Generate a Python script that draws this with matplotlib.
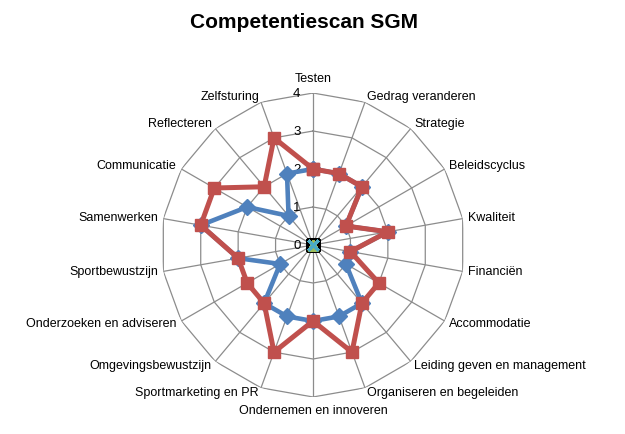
import numpy as np
import matplotlib
matplotlib.use('Agg')
import matplotlib.pyplot as plt

plt.rcParams['font.family'] = ['Liberation Sans', 'DejaVu Sans']

categories = ['Testen', 'Gedrag veranderen', 'Strategie', 'Beleidscyclus', 'Kwaliteit',
              'Financiën', 'Accommodatie', 'Leiding geven en management',
              'Organiseren en begeleiden', 'Ondernemen en innoveren', 'Sportmarketing en PR',
              'Omgevingsbewustzijn', 'Onderzoeken en adviseren', 'Sportbewustzijn',
              'Samenwerken', 'Communicatie', 'Reflecteren', 'Zelfsturing']
blue_vals = [2, 2, 2, 1, 2, 1, 1, 2, 2, 2, 2, 2, 1, 2, 3, 2, 1, 2]
red_vals = [2, 2, 2, 1, 2, 1, 2, 2, 3, 2, 3, 2, 2, 2, 3, 3, 2, 3]
zero_vals = [0] * len(categories)
ring_ticks = [0, 1, 2, 3, 4]

n = len(categories)
theta = np.arange(n) * 2 * np.pi / n
theta_c = np.append(theta, theta[0])

def closed(v):
    return np.append(v, v[0])

fig = plt.figure(figsize=(6.25, 4.34), dpi=100)
ax = fig.add_axes([161/625, 37/434, 304/625, 304/434], projection='polar')
ax.set_theta_zero_location('N')
ax.set_theta_direction(-1)
ax.set_ylim(0, 4)
ax.grid(False)
ax.spines['polar'].set_visible(False)
ax.set_xticks([])
ax.set_yticks([])
ax.patch.set_alpha(0)

grid_col = '#8c8c8c'
for r in ring_ticks[1:]:
    ax.plot(theta_c, [r] * (n + 1), color=grid_col, lw=0.9, zorder=1)
for t in theta:
    ax.plot([t, t], [0, 4], color=grid_col, lw=0.9, zorder=1)

for r in ring_ticks:
    ax.annotate(str(r), xy=(0, r), xytext=(-9, -0.5), textcoords='offset points',
                ha='right', va='center', fontsize=9.5, color='black')

ax.plot(theta_c, closed(blue_vals), color='#4f81bd', lw=3.3, marker='D', ms=8,
        zorder=3, clip_on=False)
ax.plot(theta_c, closed(red_vals), color='#c0504d', lw=3.6, marker='s', ms=9,
        zorder=4, clip_on=False)
ax.plot(theta_c, closed(zero_vals), color='black', lw=2, marker='s', ms=8, zorder=5)
ax.plot(theta_c, closed(zero_vals), color='#9bbb59', lw=2, marker='^', ms=7, zorder=6)
ax.plot(theta_c, closed(zero_vals), color='#4bacc6', lw=2, marker='x', ms=7, mew=2, zorder=7)

for t, lab in zip(theta, categories):
    s, c = np.sin(t), np.cos(t)
    if s > 0.1:
        ha = 'left'
    elif s < -0.1:
        ha = 'right'
    else:
        ha = 'center'
    if abs(s) < 0.1:
        va = 'bottom' if c > 0 else 'top'
        off = 6
    else:
        va = 'center'
        off = 4
    ax.annotate(lab, xy=(t, 4), xytext=(off * s, off * c), textcoords='offset points',
                ha=ha, va=va, fontsize=9, annotation_clip=False)

fig.text(304/625, 1 - 23/434, 'Competentiescan SGM', ha='center', va='center',
         fontsize=15, fontweight='bold')

fig.savefig('out.png', dpi=100)
